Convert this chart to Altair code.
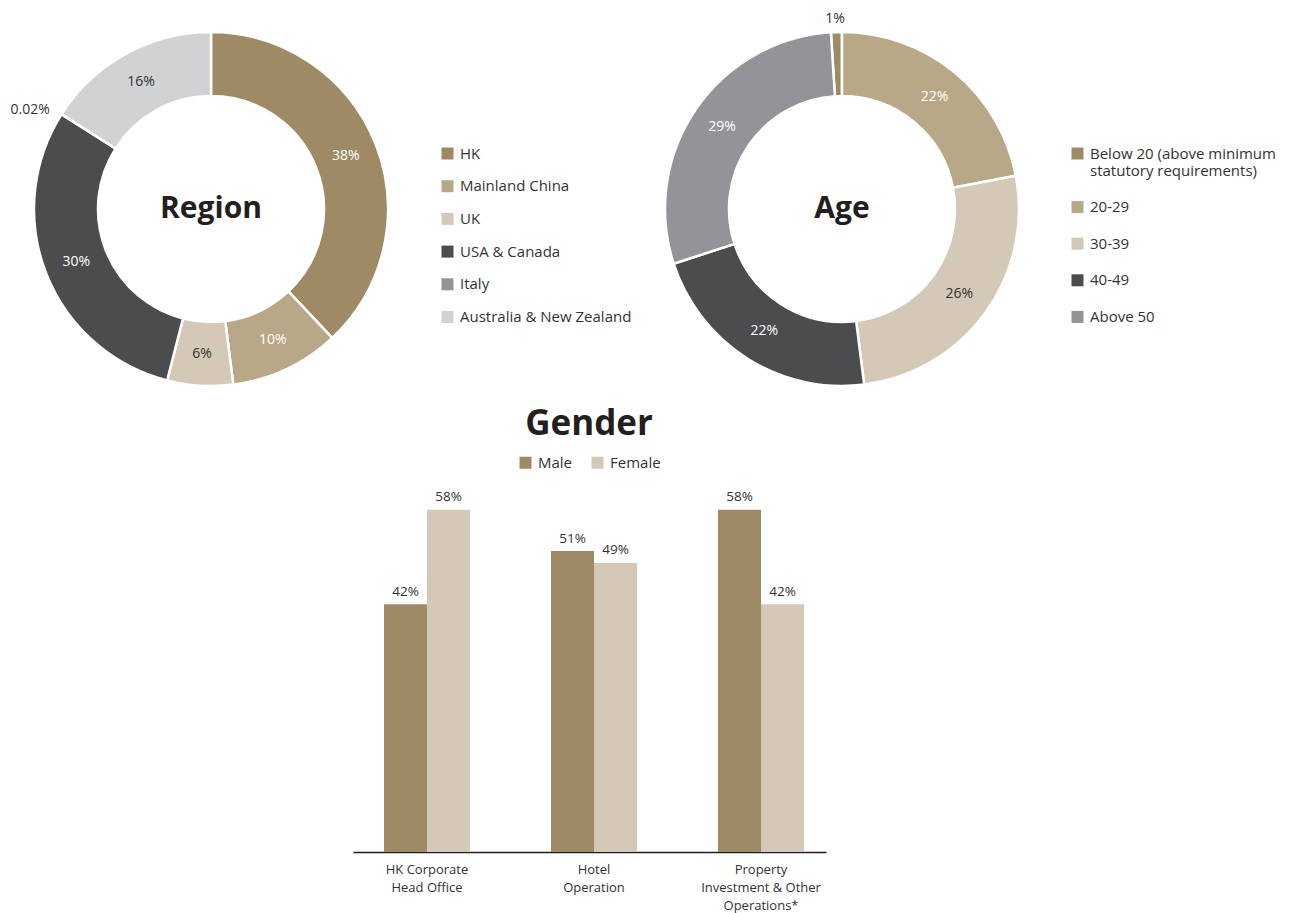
import altair as alt
import pandas as pd

FONT = "Open Sans"
DARK = "#333333"
TITLE = "#231F20"

# ---- data ----
region_cats = ["HK", "Mainland China", "UK", "USA & Canada", "Italy", "Australia & New Zealand"]
region_vals = [38, 10, 6, 30, 0.02, 16]
region_slice_order = [0, 1, 2, 3, 4, 5]
region_colors = ["#9E8B65", "#B8A888", "#D4C9B6", "#4B4C4E", "#939498", "#D1D2D4"]
region_dark_labels = ["UK", "Australia & New Zealand", "Italy"]

age_cats = ["Below 20 (above minimum|statutory requirements)", "20-29", "30-39", "40-49", "Above 50"]
age_vals = [1, 22, 26, 22, 29]
age_slice_order = [4, 0, 1, 2, 3]
age_colors = ["#9E8B65", "#B8A888", "#D4C9B6", "#4B4C4E", "#939498"]
age_dark_labels = ["30-39"]

gender_cats = ["HK Corporate|Head Office", "Hotel|Operation", "Property|Investment & Other|Operations*"]
sexes = ["Male", "Female"]
male_vals = [42, 51, 58]
female_vals = [58, 49, 42]
gender_colors = ["#9E8B65", "#D4C9B6"]


def donut(cats, vals, order, colors, dark, cx, cy, out_r, out_dx, out_dy, lx, ly, row_pad):
    df = pd.DataFrame({"cat": cats, "value": vals, "ord": order})
    base = alt.Chart(df).transform_calculate(
        lin="datum.value >= 2 ? datum.value + '%' : ''",
        lout="datum.value < 2 ? datum.value + '%' : ''",
    ).encode(
        theta=alt.Theta("value:Q", stack=True),
        order=alt.Order("ord:Q"),
        x=alt.value(cx),
        y=alt.value(cy),
    )
    arc = base.mark_arc(radius=177, radius2=113, stroke="white", strokeWidth=2.5).encode(
        color=alt.Color(
            "cat:N",
            scale=alt.Scale(domain=cats, range=colors),
            legend=alt.Legend(
                title=None, orient="none", legendX=lx, legendY=ly,
                symbolType="square", symbolSize=144, symbolStrokeWidth=0,
                labelFont=FONT, labelFontSize=15, labelColor=DARK,
                rowPadding=row_pad, labelOffset=5, labelLimit=400,
                labelExpr="split(datum.label, '|')",
            ),
        )
    )
    test = " || ".join("datum.cat === '%s'" % c for c in dark)
    tin = base.mark_text(radius=145, font=FONT, fontSize=14).encode(
        text="lin:N",
        color=alt.condition(test, alt.value(DARK), alt.value("white")),
    )
    tout = base.mark_text(radius=out_r, dx=out_dx, dy=out_dy, font=FONT, fontSize=14,
                          color=DARK).encode(text="lout:N")
    return alt.layer(arc, tin, tout)


region = donut(region_cats, region_vals, region_slice_order, region_colors, region_dark_labels,
               211, 209, 200, -12, 8, 440, 146, 16.7)
age = donut(age_cats, age_vals, age_slice_order, age_colors, age_dark_labels,
            842, 209, 191, -1, 1, 1070, 146, 20.6)

gender_df = pd.DataFrame({
    "cat": gender_cats * 2,
    "sex": ["Male"] * 3 + ["Female"] * 3,
    "value": male_vals + female_vals,
})
gbase = alt.Chart(gender_df).transform_calculate(pct="datum.value + '%'").encode(
    x=alt.X(
        "cat:N", sort=gender_cats,
        scale=alt.Scale(range=[353, 826], paddingInner=0.485, paddingOuter=0.1586, align=0.585),
        axis=alt.Axis(
            title=None, labelAngle=0, ticks=False, domainColor=TITLE, domainWidth=1.3,
            labelExpr="split(datum.label, '|')", labelFont=FONT, labelFontSize=13,
            labelColor=DARK, labelPadding=11, labelLineHeight=18, labelBaseline="top",
            labelLimit=300,
        ),
    ),
    xOffset=alt.XOffset("sex:N", sort=sexes, scale=alt.Scale(paddingInner=0, paddingOuter=0)),
    y=alt.Y("value:Q", scale=alt.Scale(domain=[0, 852 / 5.9], nice=False), axis=None),
)
bars = gbase.mark_bar().encode(
    color=alt.Color(
        "sex:N",
        scale=alt.Scale(domain=sexes, range=gender_colors),
        legend=alt.Legend(
            title=None, orient="none", direction="horizontal", legendX=518, legendY=455,
            symbolType="square", symbolSize=144, symbolStrokeWidth=0,
            labelFont=FONT, labelFontSize=15, labelColor=DARK, labelOffset=5, columnPadding=17,
        ),
    )
)
btext = gbase.mark_text(dy=-12.5, font=FONT, fontSize=13.5, color=DARK).encode(text="pct:N")
gender = alt.layer(bars, btext)


def title_text(t, x, y, size):
    return alt.Chart(pd.DataFrame({"t": [t]})).mark_text(
        font=FONT, fontSize=size, fontWeight="bold", color=TITLE
    ).encode(text="t:N", x=alt.value(x), y=alt.value(y))


chart = alt.layer(
    region, age, gender,
    title_text("Region", 211, 209, 30),
    title_text("Age", 842, 209, 30),
    title_text("Gender", 589, 424, 35),
).resolve_scale(theta="independent", color="independent").properties(
    width=1291, height=852,
    padding={"left": 0, "top": 0, "right": 0, "bottom": 61},
    autosize=alt.AutoSizeParams(type="none"),
).configure_view(stroke=None)

chart.save("out.html", embed_options={"renderer": "svg", "actions": False})
